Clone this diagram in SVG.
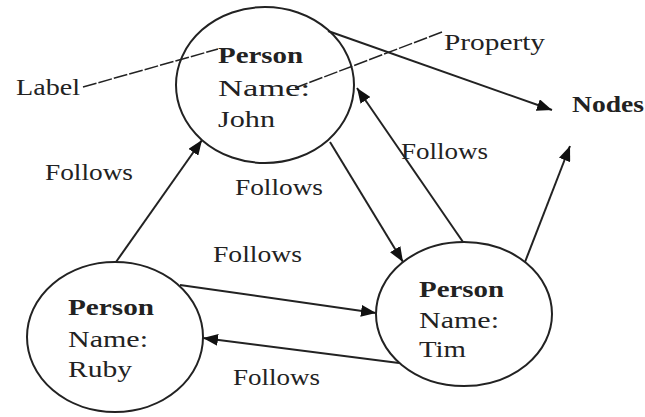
<svg xmlns="http://www.w3.org/2000/svg" width="645" height="417" viewBox="0 0 645 417">
<defs>
<style>
.node{fill:none;stroke:#222;stroke-width:2}
.t{font-family:"Liberation Serif","Times New Roman",serif;font-size:24px;fill:#222}
.b{font-weight:bold}
.edge{stroke:#222;stroke-width:2;fill:none}
.ann{stroke:#222;stroke-width:1.5;fill:none;stroke-dasharray:14 2}
</style>
<marker id="ah" markerUnits="userSpaceOnUse" markerWidth="16" markerHeight="12" refX="15" refY="6" orient="auto">
<path d="M0,0 L15,6 L0,12 z" fill="#111"/>
</marker>
</defs>
<rect width="645" height="417" fill="#fff"/>
<g id="connectors">
<line class="edge" x1="328" y1="31" x2="552" y2="110" marker-end="url(#ah)"/>
<line class="edge" x1="525" y1="262" x2="570" y2="146" marker-end="url(#ah)"/>
<line class="edge" x1="116" y1="262" x2="202" y2="140" marker-end="url(#ah)"/>
<line class="edge" x1="330" y1="142" x2="403" y2="262" marker-end="url(#ah)"/>
<line class="edge" x1="463" y1="242" x2="357" y2="88" marker-end="url(#ah)"/>
<line class="edge" x1="180" y1="285" x2="376" y2="313" marker-end="url(#ah)"/>
<line class="edge" x1="399" y1="363" x2="203" y2="338" marker-end="url(#ah)"/>
<line class="ann" x1="83" y1="87" x2="218" y2="49"/>
<line class="ann" x1="442" y1="32" x2="295" y2="88"/>
<text class="t" x="45" y="180" textLength="88" lengthAdjust="spacingAndGlyphs">Follows</text>
<text class="t" x="235" y="195" textLength="88" lengthAdjust="spacingAndGlyphs">Follows</text>
<text class="t" x="401" y="159" textLength="87" lengthAdjust="spacingAndGlyphs">Follows</text>
<text class="t" x="213" y="262" textLength="89" lengthAdjust="spacingAndGlyphs">Follows</text>
<text class="t" x="233" y="385" textLength="87" lengthAdjust="spacingAndGlyphs">Follows</text>
</g>
<g id="label-annotation">
<text class="t" x="16" y="95" textLength="64" lengthAdjust="spacingAndGlyphs">Label</text>
</g>
<g id="property-annotation">
<text class="t" x="444" y="50" textLength="101" lengthAdjust="spacingAndGlyphs">Property</text>
</g>
<g id="nodes-annotation">
<text class="t b" x="572" y="112" textLength="72" lengthAdjust="spacingAndGlyphs">Nodes</text>
</g>
<g id="john">
<ellipse class="node" cx="265" cy="85" rx="89" ry="78"/>
<text class="t b" x="218" y="63" textLength="85" lengthAdjust="spacingAndGlyphs">Person</text>
<text class="t" x="218" y="96" textLength="92" lengthAdjust="spacingAndGlyphs">Name:</text>
<text class="t" x="218" y="127" textLength="57" lengthAdjust="spacingAndGlyphs">John</text>
</g>
<g id="ruby">
<ellipse class="node" cx="115" cy="337" rx="88" ry="75"/>
<text class="t b" x="68" y="315" textLength="86" lengthAdjust="spacingAndGlyphs">Person</text>
<text class="t" x="68" y="347" textLength="80" lengthAdjust="spacingAndGlyphs">Name:</text>
<text class="t" x="68" y="377" textLength="64" lengthAdjust="spacingAndGlyphs">Ruby</text>
</g>
<g id="tim">
<ellipse class="node" cx="464" cy="314" rx="88" ry="72"/>
<text class="t b" x="419" y="297" textLength="85" lengthAdjust="spacingAndGlyphs">Person</text>
<text class="t" x="419" y="328" textLength="80" lengthAdjust="spacingAndGlyphs">Name:</text>
<text class="t" x="419" y="357" textLength="47" lengthAdjust="spacingAndGlyphs">Tim</text>
</g>
</svg>
